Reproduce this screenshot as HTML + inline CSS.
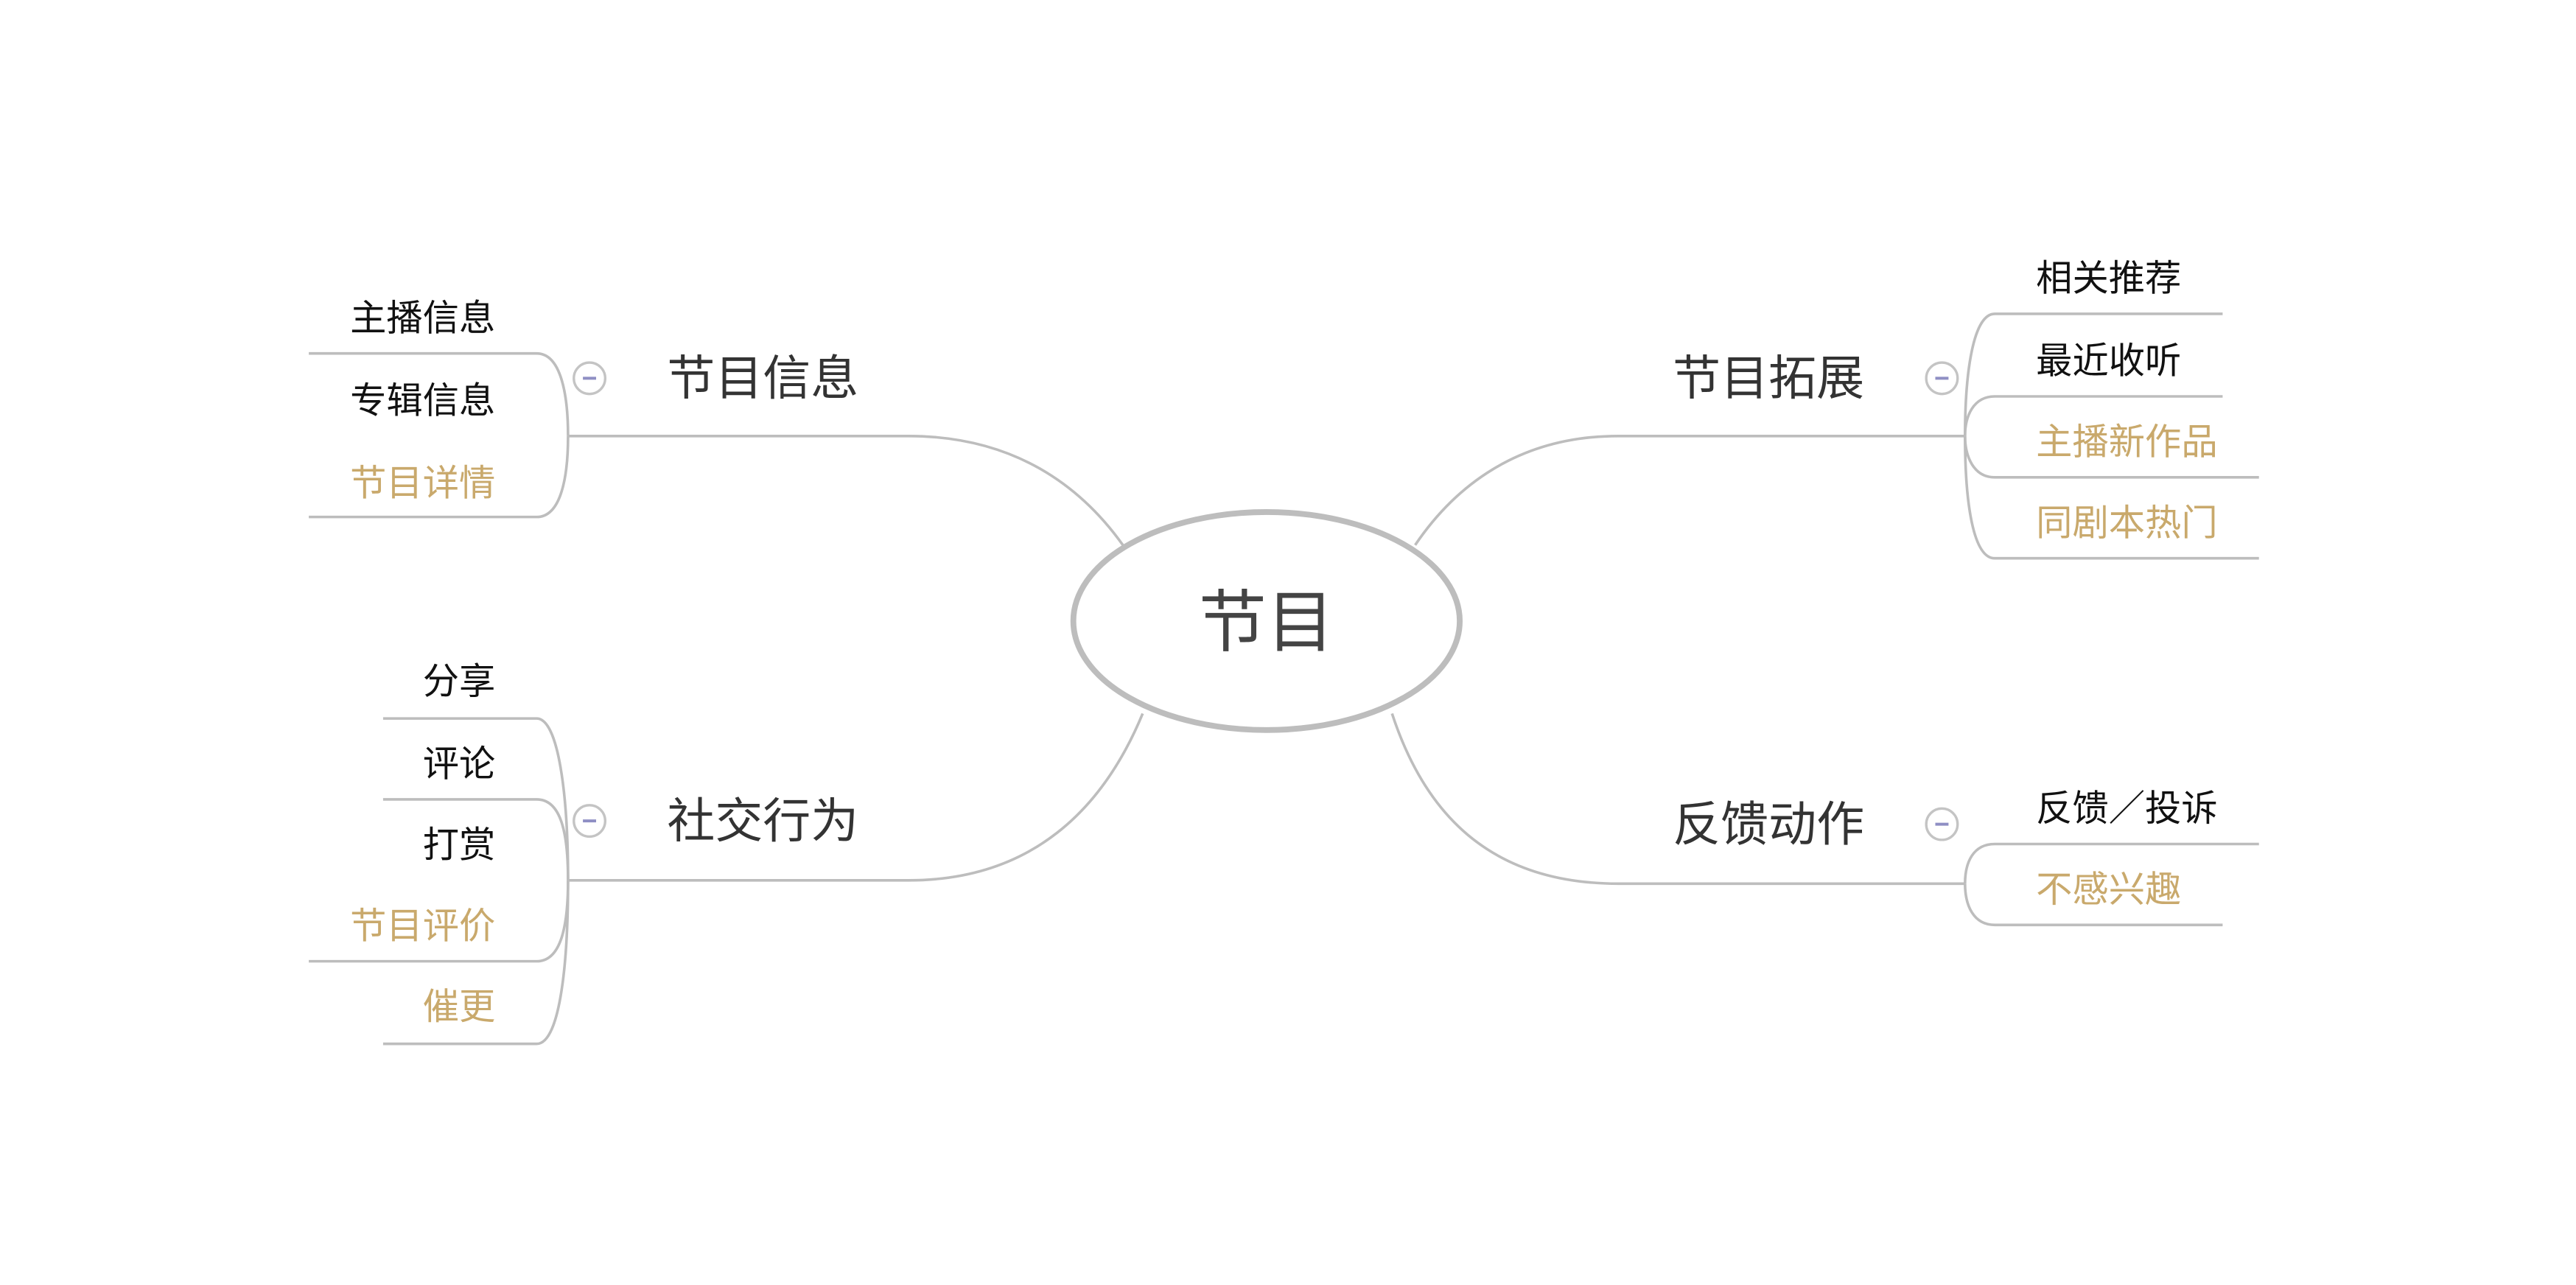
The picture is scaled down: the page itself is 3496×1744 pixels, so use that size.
<!DOCTYPE html>
<html><head><meta charset="utf-8">
<style>
html,body{margin:0;padding:0;background:#fff;}
svg{display:block;}
text{font-family:"Liberation Sans","Noto Sans CJK SC",sans-serif;}
</style></head>
<body>
<svg width="3496" height="1744" viewBox="0 0 1560 778" preserveAspectRatio="none" xmlns="http://www.w3.org/2000/svg">
<g fill="none" stroke="#bdbdbd" stroke-width="1.6">
  <path d="M344,264 H550 C615,264 655,295 680,330"/>
  <path d="M344,533 H550 C625,533 668,490 692,432"/>
  <path d="M1190,264 H980 C918,264 880,296 857,330"/>
  <path d="M1190,535 H980 C900,535 862,490 843,432"/>
  <path d="M187,214 H325 C340,214 344,240 344,264"/>
  <path d="M187,313 H325 C340,313 344,288 344,264"/>
  <path d="M232,435 H325 C338,435 344,480 344,533"/>
  <path d="M232,484 H325 C340,484 344,505 344,533"/>
  <path d="M187,582 H325 C340,582 344,560 344,533"/>
  <path d="M232,632 H325 C338,632 344,590 344,533"/>
  <path d="M1346,190 H1208 C1195,190 1190,225 1190,264"/>
  <path d="M1346,240 H1208 C1195,240 1190,252 1190,264"/>
  <path d="M1368,289 H1208 C1195,289 1190,276 1190,264"/>
  <path d="M1368,338 H1208 C1195,338 1190,305 1190,264"/>
  <path d="M1368,511 H1208 C1195,511 1190,522 1190,535"/>
  <path d="M1346,560 H1208 C1195,560 1190,548 1190,535"/>
</g>
<ellipse cx="767" cy="376" rx="117" ry="66" fill="#fff" stroke="#bdbdbd" stroke-width="3.5"/>
<text x="767" y="391" font-size="41" fill="#444" text-anchor="middle">节目</text>
<g fill="#fff" stroke="#c4c4c4" stroke-width="1.5">
  <circle cx="357" cy="229" r="9.5"/>
  <circle cx="357" cy="497" r="9.5"/>
  <circle cx="1176" cy="229" r="9.5"/>
  <circle cx="1176" cy="499" r="9.5"/>
</g>
<g stroke="#8f8fc4" stroke-width="1.8">
  <path d="M353,229 H361"/><path d="M353,497 H361"/>
  <path d="M1172,229 H1180"/><path d="M1172,499 H1180"/>
</g>
<g font-size="29" fill="#333">
  <text x="404" y="239">节目信息</text>
  <text x="404" y="507">社交行为</text>
  <text x="1013" y="239">节目拓展</text>
  <text x="1013" y="509">反馈动作</text>
</g>
<g font-size="22" text-anchor="end">
  <text x="300" y="200" fill="#111">主播信息</text>
  <text x="300" y="250" fill="#111">专辑信息</text>
  <text x="300" y="300" fill="#c9a96c">节目详情</text>
  <text x="300" y="420" fill="#111">分享</text>
  <text x="300" y="470" fill="#111">评论</text>
  <text x="300" y="519" fill="#111">打赏</text>
  <text x="300" y="568" fill="#c9a96c">节目评价</text>
  <text x="300" y="617" fill="#c9a96c">催更</text>
</g>
<g font-size="22">
  <text x="1233" y="176" fill="#111">相关推荐</text>
  <text x="1233" y="226" fill="#111">最近收听</text>
  <text x="1233" y="275" fill="#c9a96c">主播新作品</text>
  <text x="1233" y="324" fill="#c9a96c">同剧本热门</text>
  <text x="1233" y="497" fill="#111">反馈／投诉</text>
  <text x="1233" y="546" fill="#c9a96c">不感兴趣</text>
</g>
</svg>
</body></html>
